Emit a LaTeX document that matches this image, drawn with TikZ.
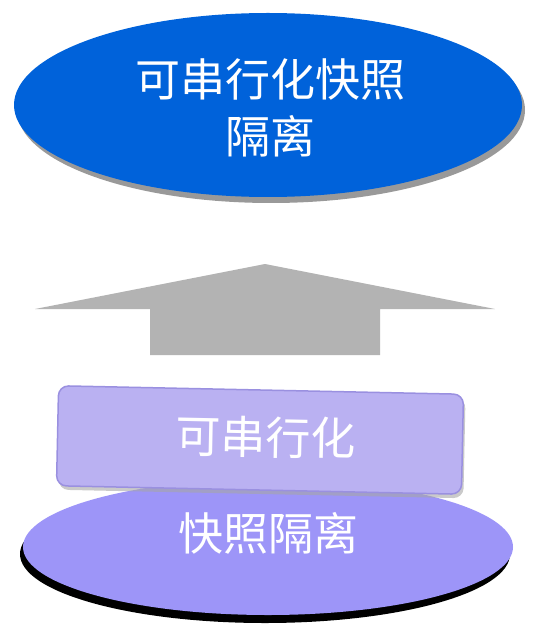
\documentclass[tikz,border=0pt]{standalone}
\usepackage{fontspec}
\newfontfamily\cjk{Noto Sans CJK SC}
\usetikzlibrary{shapes.geometric}
\definecolor{topblue}{HTML}{0062DA}
\definecolor{topedge}{HTML}{0048A8}
\definecolor{lowlav}{HTML}{9D95F8}
\definecolor{lowedge}{HTML}{7E75DC}
\definecolor{boxlav}{HTML}{BAB1F2}
\definecolor{boxedge}{HTML}{9A90E0}
\definecolor{arrowgray}{HTML}{B3B3B3}
\pgfdeclareradialshading{rimblue}{\pgfpoint{0bp}{0bp}}{color(0bp)=(topblue); color(40bp)=(topblue); color(50bp)=(topedge)}
\pgfdeclareradialshading{rimlav}{\pgfpoint{0bp}{0bp}}{color(0bp)=(lowlav); color(42bp)=(lowlav); color(50bp)=(lowedge)}
\tikzset{
  lbl/.style={text=white, font=\cjk\fontsize{45pt}{57pt}\selectfont, align=center, inner sep=0pt},
}
\begin{document}
\begin{tikzpicture}[x=1pt,y=-1pt]
\useasboundingbox (0,0) rectangle (538,628);
% top ellipse
\fill[black!40] (271,110) ellipse [x radius=254, y radius=93];
\shade[shading=rimblue] (268,105) ellipse [x radius=254, y radius=92];
\node[lbl] (top) at (270,108) {可串行化快照\\隔离};
% arrow
\fill[arrowgray] (265,264) -- (495,309) -- (380,309) -- (380,355) -- (150,355) -- (150,309) -- (35,309) -- cycle;
% bottom ellipse
\fill[black] (265,554) ellipse [x radius=245, y radius=69];
\shade[shading=rimlav] (268,547) ellipse [x radius=245, y radius=68];
\node[lbl] (snap) at (268,533) {快照隔离};
% box
\node[rotate=-1.2, minimum width=405pt, minimum height=100pt, rounded corners=10pt, fill=black!35, opacity=0.6] (boxsh) at (262,444) {};
\node[rotate=-1.2, minimum width=405pt, minimum height=100pt, rounded corners=10pt, fill=boxlav, draw=boxedge, line width=1.5pt] (box) at (260,440) {};
\node[lbl, rotate=-1.2] (ser) at (266,437) {可串行化};
\end{tikzpicture}
\end{document}
